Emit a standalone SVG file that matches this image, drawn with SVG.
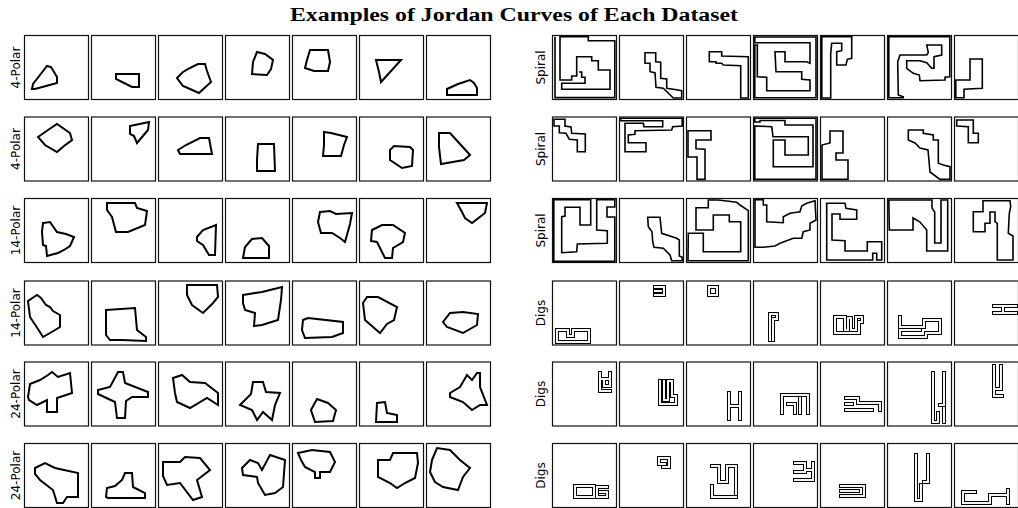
<svg xmlns="http://www.w3.org/2000/svg" width="1018" height="508" viewBox="0 0 1018 508">
<style>
.fr{fill:#fff;stroke:#111;stroke-width:1.2}
.c{fill:none;stroke:#000;stroke-width:2;stroke-linejoin:miter}
.s{fill:none;stroke:#000;stroke-width:1.6;stroke-linejoin:miter}
.do{fill:none;stroke:#000;stroke-width:4;stroke-linecap:square;stroke-linejoin:miter}
.di{fill:none;stroke:#f4f4f4;stroke-width:2;stroke-linecap:square;stroke-linejoin:miter}
.lab{font-family:"DejaVu Sans","Liberation Sans",sans-serif;font-size:12px;fill:#000;text-anchor:middle}
.title{font-family:"Liberation Serif",serif;font-weight:bold;font-size:18px;fill:#000;text-anchor:middle}
</style>
<rect width="1018" height="508" fill="#fff"/>
<text class="title" x="514" y="20.5" textLength="448" lengthAdjust="spacingAndGlyphs">Examples of Jordan Curves of Each Dataset</text>
<g id="labels">
<text class="lab" transform="translate(19.5,67.5) rotate(-90)">4-Polar</text>
<text class="lab" transform="translate(19.5,149) rotate(-90)">4-Polar</text>
<text class="lab" transform="translate(19.5,230.5) rotate(-90)">14-Polar</text>
<text class="lab" transform="translate(19.5,313) rotate(-90)">14-Polar</text>
<text class="lab" transform="translate(19.5,394) rotate(-90)">24-Polar</text>
<text class="lab" transform="translate(19.5,475.5) rotate(-90)">24-Polar</text>
<text class="lab" transform="translate(545,67.5) rotate(-90)">Spiral</text>
<text class="lab" transform="translate(545,149) rotate(-90)">Spiral</text>
<text class="lab" transform="translate(545,230.5) rotate(-90)">Spiral</text>
<text class="lab" transform="translate(545,313) rotate(-90)">Digs</text>
<text class="lab" transform="translate(545,394) rotate(-90)">Digs</text>
<text class="lab" transform="translate(545,475.5) rotate(-90)">Digs</text>
</g>
<!-- Left: 4-Polar row 1 -->
<g id="L1-1"><rect class="fr" x="24.5" y="35.5" width="64" height="64"/><polygon class="c" points="32,89 33,84 40,75 47,66 51,67 54,72 57,77 57,83 46,86 35,89"/></g>
<g id="L1-2"><rect class="fr" x="91.5" y="35.5" width="64" height="64"/><polygon class="c" points="116,74 139,74 139,87 132,87 124,83 116,79"/></g>
<g id="L1-3"><rect class="fr" x="158.5" y="35.5" width="64" height="64"/><polygon class="c" points="177,78 183,72 190,68 198,64 205,64 207,71 211,82 199,93 190,89 183,86"/></g>
<g id="L1-4"><rect class="fr" x="225.5" y="35.5" width="64" height="64"/><polygon class="c" points="252,74 253,62 257,52 265,54 273,60 271,69 267,75"/></g>
<g id="L1-5"><rect class="fr" x="292.5" y="35.5" width="64" height="64"/><polygon class="c" points="305,68 307,60 310,50 328,50 330,62 328,71 314,71"/></g>
<g id="L1-6"><rect class="fr" x="359.5" y="35.5" width="64" height="64"/><polygon class="c" points="376,60 401,60 391,71 381,82 379,72"/></g>
<g id="L1-7"><rect class="fr" x="426.5" y="35.5" width="64" height="64"/><polygon class="c" points="447,95 447,89 458,84 470,80 474,83 477,88 477,95"/></g>
<!-- row 2 -->
<g id="L2-1"><rect class="fr" x="24.5" y="117" width="64" height="64"/><polygon class="c" points="38,137 48,130 57,124 70,133 72,140 64,146 57,152 45,145"/></g>
<g id="L2-2"><rect class="fr" x="91.5" y="117" width="64" height="64"/><polygon class="c" points="130,126 149,122 148,130 137,143 134,136 130,134"/></g>
<g id="L2-3"><rect class="fr" x="158.5" y="117" width="64" height="64"/><polygon class="c" points="178,150 186,145 200,138 209,138 212,154 180,154"/></g>
<g id="L2-4"><rect class="fr" x="225.5" y="117" width="64" height="64"/><polygon class="c" points="258,144 274,144 275,171 257,171 257,160"/></g>
<g id="L2-5"><rect class="fr" x="292.5" y="117" width="64" height="64"/><polygon class="c" points="324,132 331,133 347,137 344,145 341,156 323,156 324,145"/></g>
<g id="L2-6"><rect class="fr" x="359.5" y="117" width="64" height="64"/><polygon class="c" points="390,150 394,146 410,147 413,150 412,166 402,168 390,160"/></g>
<g id="L2-7"><rect class="fr" x="426.5" y="117" width="64" height="64"/><polygon class="c" points="439,133 450,133 460,144 470,155 464,160 441,164 439,147"/></g>
<!-- row 3 -->
<g id="L3-1"><rect class="fr" x="24.5" y="198.5" width="64" height="64"/><polygon class="c" points="43,223 50,222 57,232 66,234 74,237 70,246 64,250 58,253 47,256 46,246 43,245 42,232"/></g>
<g id="L3-2"><rect class="fr" x="91.5" y="198.5" width="64" height="64"/><polygon class="c" points="107,203 135,203 137,208 147,211 145,225 128,232 116,232 112,217 107,210"/></g>
<g id="L3-3"><rect class="fr" x="158.5" y="198.5" width="64" height="64"/><polygon class="c" points="197,237 203,230 216,225 215,255 209,255 203,245 197,241"/></g>
<g id="L3-4"><rect class="fr" x="225.5" y="198.5" width="64" height="64"/><polygon class="c" points="243,258 245,247 252,239 262,238 269,246 269,258"/></g>
<g id="L3-5"><rect class="fr" x="292.5" y="198.5" width="64" height="64"/><polygon class="c" points="320,212 330,211 336,214 352,213 350,224 345,242 340,238 332,233 321,233 318,222"/></g>
<g id="L3-6"><rect class="fr" x="359.5" y="198.5" width="64" height="64"/><polygon class="c" points="372,230 382,225 393,225 405,233 403,242 393,248 392,258 385,258 377,242 371,241"/></g>
<g id="L3-7"><rect class="fr" x="426.5" y="198.5" width="64" height="64"/><polygon class="c" points="457,203 487,203 485,213 472,223 465,218 462,212"/></g>
<!-- row 4 -->
<g id="L4-1"><rect class="fr" x="24.5" y="281" width="64" height="64"/><polygon class="c" points="28,301 37,295 41,298 46,305 50,307 53,311 60,315 60,327 50,333 43,337 36,326 30,317"/></g>
<g id="L4-2"><rect class="fr" x="91.5" y="281" width="64" height="64"/><polygon class="c" points="106,310 135,308 137,330 146,337 146,341 122,340 110,340 106,335"/></g>
<g id="L4-3"><rect class="fr" x="158.5" y="281" width="64" height="64"/><polygon class="c" points="187,285 217,285 218,297 213,303 203,313 192,305 187,295"/></g>
<g id="L4-4"><rect class="fr" x="225.5" y="281" width="64" height="64"/><polygon class="c" points="243,295 255,293 262,292 270,290 282,287 281,300 278,320 262,325 254,326 255,313 245,310 243,303"/></g>
<g id="L4-5"><rect class="fr" x="292.5" y="281" width="64" height="64"/><polygon class="c" points="303,320 308,318 343,322 343,333 332,337 305,338 302,330"/></g>
<g id="L4-6"><rect class="fr" x="359.5" y="281" width="64" height="64"/><polygon class="c" points="363,303 367,297 378,297 397,307 394,320 387,324 380,333 365,320"/></g>
<g id="L4-7"><rect class="fr" x="426.5" y="281" width="64" height="64"/><polygon class="c" points="443,322 450,313 463,312 478,314 477,325 463,333 447,327"/></g>
<!-- row 5 -->
<g id="L5-1"><rect class="fr" x="24.5" y="362" width="64" height="64"/><polygon class="c" points="28,397 30,384 40,380 48,375 52,372 58,377 70,373 72,393 57,398 57,412 47,412 47,400 37,405 29,400"/></g>
<g id="L5-2"><rect class="fr" x="91.5" y="362" width="64" height="64"/><polygon class="c" points="98,390 110,387 118,372 123,372 125,383 148,392 148,397 132,397 126,401 125,418 117,418 115,402 98,394"/></g>
<g id="L5-3"><rect class="fr" x="158.5" y="362" width="64" height="64"/><polygon class="c" points="173,378 182,375 190,382 205,383 218,393 218,405 207,398 190,408 177,402 175,393"/></g>
<g id="L5-4"><rect class="fr" x="225.5" y="362" width="64" height="64"/><polygon class="c" points="240,405 247,398 251,394 253,382 263,382 266,392 280,393 275,405 272,420 263,412 257,420 252,410"/></g>
<g id="L5-5"><rect class="fr" x="292.5" y="362" width="64" height="64"/><polygon class="c" points="311,410 317,399 328,403 336,410 333,421 315,422"/></g>
<g id="L5-6"><rect class="fr" x="359.5" y="362" width="64" height="64"/><polygon class="c" points="376,422 377,403 385,402 387,413 397,415 397,422"/></g>
<g id="L5-7"><rect class="fr" x="426.5" y="362" width="64" height="64"/><polygon class="c" points="450,393 460,387 467,375 472,380 477,373 480,373 480,387 487,405 480,405 472,410 463,402 450,397"/></g>
<!-- row 6 -->
<g id="L6-1"><rect class="fr" x="24.5" y="443.5" width="64" height="64"/><polygon class="c" points="35,468 45,463 55,468 78,473 78,497 67,497 63,503 57,503 53,490 40,480 35,474"/></g>
<g id="L6-2"><rect class="fr" x="91.5" y="443.5" width="64" height="64"/><polygon class="c" points="106,497 107,488 115,486 122,480 125,473 132,473 133,487 145,493 145,498 108,498"/></g>
<g id="L6-3"><rect class="fr" x="158.5" y="443.5" width="64" height="64"/><polygon class="c" points="163,462 180,462 185,457 200,458 210,470 197,480 202,497 193,500 180,483 167,485 163,476"/></g>
<g id="L6-4"><rect class="fr" x="225.5" y="443.5" width="64" height="64"/><polygon class="c" points="242,468 250,460 258,463 262,470 270,455 285,460 283,487 275,493 265,495 258,483 257,477 243,475"/></g>
<g id="L6-5"><rect class="fr" x="292.5" y="443.5" width="64" height="64"/><polygon class="c" points="298,453 312,450 330,452 335,462 330,472 320,472 320,478 315,478 315,472 305,467 301,460"/></g>
<g id="L6-6"><rect class="fr" x="359.5" y="443.5" width="64" height="64"/><polygon class="c" points="378,460 390,460 393,453 417,453 418,463 415,478 405,483 397,488 390,483 378,477"/></g>
<g id="L6-7"><rect class="fr" x="426.5" y="443.5" width="64" height="64"/><polygon class="c" points="432,460 437,448 450,450 460,460 470,468 463,477 458,490 443,487 435,482 430,472"/></g>
<!-- Right: Spiral row 1 -->
<g id="R1-1"><rect class="fr" x="552.5" y="35.5" width="64" height="64"/><path class="s" d="M555,36.8 V97.6 H614.8 V40.7 H588.3 V36.8 H560 V80 H571.7 V76 H576.7 V56.7 H591.7 V60.7 H598.3 V70 H610 V89.3 H561.7 V83.3 H585 V77.3 H581.7 V72 H579"/></g>
<g id="R1-2"><rect class="fr" x="619.5" y="35.5" width="64" height="64"/><polygon class="s" points="645,52.7 655.7,52.7 655.7,61.7 660.7,62.3 660.7,78.3 666.7,79 666.7,88.3 673.3,89.3 681.7,90.7 681.7,98 673.3,98 663.3,88.3 656,87.3 655,72.7 650,71.7 650,63.3 645,63.3"/></g>
<g id="R1-3"><rect class="fr" x="686.5" y="35.5" width="64" height="64"/><polygon class="s" points="709.3,51.7 721.7,51.7 721.7,56 748.3,56.7 748.3,98 740.7,98 740.7,65.7 723.3,65 721.7,63.3 716,63.3 716,61.7 709.3,61.7"/></g>
<g id="R1-4"><rect class="fr" x="753.5" y="35.5" width="64" height="64"/><polygon class="s" points="754.8,42.7 754.8,37 816,37 816,97.8 754.8,97.8 754.8,45 757.3,45 757.3,76.7 766.7,77.3 766.7,90.7 810,90.7 810,80 801.7,79.3 801.7,71.7 776,71.7 775,51.7 785,51.7 785,61.7 806.7,61.7 810,63.3 810,42.7"/></g>
<g id="R1-5"><rect class="fr" x="820.5" y="35.5" width="64" height="64"/><polygon class="s" points="821.8,36.8 851.7,36.8 851.7,58.3 847.3,59.3 846,65 836.7,65 836.7,51.7 841.7,50.7 841.7,43.3 831.7,43.3 830.7,53.3 830.7,98 821.8,98"/></g>
<g id="R1-6"><rect class="fr" x="887.5" y="35.5" width="64" height="64"/><polygon class="s" points="888.8,36.8 949.8,36.8 949.8,76.7 945,77.3 945,80 920,80.7 919.3,75 913.3,73.3 906.7,68.3 906.7,60.7 920,60.7 926.7,62.7 931.7,68.3 934,68.3 934,56.7 941.7,55 941.7,45 926.7,45 928.3,52.7 926.7,55 900,55 897.7,61.7 898.3,95 903.3,96.7 903.3,97.8 888.8,97.8"/></g>
<g id="R1-7"><rect class="fr" x="954.5" y="35.5" width="64" height="64"/><polygon class="s" points="970,59 982.3,59 982.3,88.3 964,89.3 964,97.8 955.8,97.8 955.8,80 970,80"/></g>
<!-- Spiral row 2 -->
<g id="R2-1"><rect class="fr" x="552.5" y="117" width="64" height="64"/><polygon class="s" points="554,119.3 565,119.3 565,126 571,127 571.7,133.3 585.3,134 585.3,151.7 577.3,151.7 577.3,140 569.3,139.3 566,133.3 559.3,132.7 559.3,126 554,126"/></g>
<g id="R2-2"><rect class="fr" x="619.5" y="117" width="64" height="64"/><polygon class="s" points="620.8,118.3 682.2,118.3 682.2,126 672.7,126.7 671.7,130 635,130.7 635,134.3 628.3,135 628.3,142.7 646,142.7 646,151.7 625,151.7 625,123.3 643.3,123.3 644,126.7 662.7,126.7 662.7,120.7 620.8,120.7"/></g>
<g id="R2-3"><rect class="fr" x="686.5" y="117" width="64" height="64"/><polygon class="s" points="688,130.7 711,130.7 711,140 696,140 696,148.7 705,149.3 705,179.4 697,179.4 697,157 688,157"/></g>
<g id="R2-4"><rect class="fr" x="753.5" y="117" width="64" height="64"/><polygon class="s" points="754.8,122 754.8,118.3 816,118.3 816,179.4 754.8,179.4 754.8,126 771.7,126.7 773,136.7 808.3,136.7 808.3,155 785,155 785,140 773.3,140 773.3,166.7 813,166.7 813,125 785,125 785,120.5 760,120.5 760,122"/></g>
<g id="R2-5"><rect class="fr" x="820.5" y="117" width="64" height="64"/><polygon class="s" points="822,179.4 822,145 830,143 830,131 843,131 843,153 836,153 836,160 848,160 848,179.4"/></g>
<g id="R2-6"><rect class="fr" x="887.5" y="117" width="64" height="64"/><polygon class="s" points="908.3,130 923.3,130 923.3,133.3 933.3,135 933.3,140 938.3,140 938.3,163.3 943.3,165 950,166.7 950,179.4 940,179.4 930,172 928,150 920,148 915,143 908.3,140"/></g>
<g id="R2-7"><rect class="fr" x="954.5" y="117" width="64" height="64"/><polygon class="s" points="956.7,120 973.3,120 973.3,133.3 978.3,133.3 978.3,142.7 968.3,142.7 968.3,126.7 956.7,126"/></g>
<!-- Spiral row 3 -->
<g id="R3-1"><rect class="fr" x="552.5" y="198.5" width="64" height="64"/><polygon class="s" points="565,207.3 580,207.3 580,225 590.7,225 590.7,199.8 553.8,199.8 553.8,261.2 614.8,261.2 614.8,217 607,217 607,207 614.8,207 614.8,199.8 596.7,199.8 596.7,230 607.3,230.7 607.3,243.3 577.3,244 576.7,251.7 561.7,252.7 561.7,216.7 565,216"/></g>
<g id="R3-2"><rect class="fr" x="619.5" y="198.5" width="64" height="64"/><polygon class="s" points="647.7,217.3 660,217.3 661.7,233.3 676.7,238.3 679.3,240 679.3,256 682.2,257.3 682.2,260.7 671.7,260.7 670,255 663.3,248.3 654,247.3 652.7,241.7 652,231.7 648.3,226.7"/></g>
<g id="R3-3"><rect class="fr" x="686.5" y="198.5" width="64" height="64"/><polygon class="s" points="688.3,233.3 703.3,233.3 703.3,251.7 740.7,251.7 740.7,221.7 729.3,221.7 729.3,215 713.3,215 713.3,230 696,230 696,207.7 708.3,207.7 708.3,200 718.3,200 736.7,202.3 740,205 748.3,210.7 748.3,260.8 688,260.8"/></g>
<g id="R3-4"><rect class="fr" x="753.5" y="198.5" width="64" height="64"/><polygon class="s" points="763.3,205 766.7,205 766.7,221.7 783.3,222.7 783.3,216.7 790,213.3 800,211.7 801.7,206 806.7,203.3 815,200.7 816,220 810,223.3 810,230 803.3,231.7 801.7,238.3 793.3,238.3 780,243.3 775,246 763.3,247.3 755,247.3 755,199.8 763.3,199.8"/></g>
<g id="R3-5"><rect class="fr" x="820.5" y="198.5" width="64" height="64"/><polygon class="s" points="826.7,203.3 845,203.3 846,208.3 856.7,210 856.7,219.3 840,219.3 840,214 832,214 832,240 845,240.7 845,251 867.3,251 867.3,241.7 881.7,241.7 881.7,260 876.7,260 876.7,253.3 872.7,253.3 872.7,260 826.7,260"/></g>
<g id="R3-6"><rect class="fr" x="887.5" y="198.5" width="64" height="64"/><polygon class="s" points="888.8,200 932,200 932,208 934.7,212 934.7,243 941,243 941,200 947.7,200 947.7,251 926.7,251 926.7,230 920,222 913,218 913,230 889.3,230"/></g>
<g id="R3-7"><rect class="fr" x="954.5" y="198.5" width="64" height="64"/><polygon class="s" points="973.3,211.7 983,211.7 983,200.7 1010,200.7 1010.7,206.7 1009.3,213.3 1008.3,233.3 1013,236 1013,260 997.3,260 997.3,223.3 995,221.7 995,212 990,212 990,223.3 985,223.3 985,231.7 973.3,231.7"/></g>
<!-- Digs row 4 -->
<g id="R4-1"><rect class="fr" x="552.5" y="281" width="64" height="64"/><path class="do" d="M557,342 V330 H568 V336 H573 V330 H589 V342 Z"/><path class="di" d="M557,342 V330 H568 V336 H573 V330 H589 V342 Z"/></g>
<g id="R4-2"><rect class="fr" x="619.5" y="281" width="64" height="64"/><path class="do" d="M655,287 H664 V295 H655 M655,291 H661"/><path class="di" d="M655,287 H664 V295 H655 M655,291 H661"/></g>
<g id="R4-3"><rect class="fr" x="686.5" y="281" width="64" height="64"/><path class="do" d="M709,287 H717 V295 H709 Z"/><path class="di" d="M709,287 H717 V295 H709 Z"/></g>
<g id="R4-4"><rect class="fr" x="753.5" y="281" width="64" height="64"/><path class="do" d="M770,340 V314 H777 V319 H773 V340"/><path class="di" d="M770,340 V314 H777 V319 H773 V340"/></g>
<g id="R4-5"><rect class="fr" x="820.5" y="281" width="64" height="64"/><path class="do" d="M835,333 V317 H845 V330 H848 V318 H851 V330 H856 V317 H862 V322 H859 V333 Z"/><path class="di" d="M835,333 V317 H845 V330 H848 V318 H851 V330 H856 V317 H862 V322 H859 V333 Z"/></g>
<g id="R4-6"><rect class="fr" x="887.5" y="281" width="64" height="64"/><path class="do" d="M900,317 V327 H924 V320 H940 V333 H926 V337 H900 V330 H920"/><path class="di" d="M900,317 V327 H924 V320 H940 V333 H926 V337 H900 V330 H920"/></g>
<g id="R4-7"><rect class="fr" x="954.5" y="281" width="64" height="64"/><path class="do" d="M994,306 H1016 M994,313 H1016 M1003,306 V313"/><path class="di" d="M994,306 H1016 M994,313 H1016 M1003,306 V313"/></g>
<!-- Digs row 5 -->
<g id="R5-1"><rect class="fr" x="552.5" y="362" width="64" height="64"/><path class="do" d="M600,373 V391 H610 M600,379 H609 M604,379 V386 H610 M610,373 V385"/><path class="di" d="M600,373 V391 H610 M600,379 H609 M604,379 V386 H610 M610,373 V385"/></g>
<g id="R5-2"><rect class="fr" x="619.5" y="362" width="64" height="64"/><path class="do" d="M660,381 V404 H676 V396 H672 V381 H668 V400 H664 V381"/><path class="di" d="M660,381 V404 H676 V396 H672 V381 H668 V400 H664 V381"/></g>
<g id="R5-3"><rect class="fr" x="686.5" y="362" width="64" height="64"/><path class="do" d="M729,393 V419 M740,393 V419 M729,406 H740"/><path class="di" d="M729,393 V419 M740,393 V419 M729,406 H740"/></g>
<g id="R5-4"><rect class="fr" x="753.5" y="362" width="64" height="64"/><path class="do" d="M782,413 V395 H808 V413 M800,398 V413 M788,404 H795 V413"/><path class="di" d="M782,413 V395 H808 V413 M800,398 V413 M788,404 H795 V413"/></g>
<g id="R5-5"><rect class="fr" x="820.5" y="362" width="64" height="64"/><path class="do" d="M846,398 H858 V403 H880 V410 M846,410 H872 M846,404 H852"/><path class="di" d="M846,398 H858 V403 H880 V410 M846,410 H872 M846,404 H852"/></g>
<g id="R5-6"><rect class="fr" x="887.5" y="362" width="64" height="64"/><path class="do" d="M933,373 V422 H938 V413 M944,373 V405 H940 M944,408 V422"/><path class="di" d="M933,373 V422 H938 V413 M944,373 V405 H940 M944,408 V422"/></g>
<g id="R5-7"><rect class="fr" x="954.5" y="362" width="64" height="64"/><path class="do" d="M994,366 V396 H1002 M1001,366 V389 H996"/><path class="di" d="M994,366 V396 H1002 M1001,366 V389 H996"/></g>
<!-- Digs row 6 -->
<g id="R6-1"><rect class="fr" x="552.5" y="443.5" width="64" height="64"/><path class="do" d="M575,486 H594 V497 H575 Z M597,497 V487 H607 M600,492 H607 V497 H597"/><path class="di" d="M575,486 H594 V497 H575 Z M597,497 V487 H607 M600,492 H607 V497 H597"/></g>
<g id="R6-2"><rect class="fr" x="619.5" y="443.5" width="64" height="64"/><path class="do" d="M659,458 H669 V467 H663 M659,458 V464 H665"/><path class="di" d="M659,458 H669 V467 H663 M659,458 V464 H665"/></g>
<g id="R6-3"><rect class="fr" x="686.5" y="443.5" width="64" height="64"/><path class="do" d="M712,466 H719 V482 H727 V466 H736 V494 M712,486 V497 H736"/><path class="di" d="M712,466 H719 V482 H727 V466 H736 V494 M712,486 V497 H736"/></g>
<g id="R6-4"><rect class="fr" x="753.5" y="443.5" width="64" height="64"/><path class="do" d="M795,463 H805 V470 H813 V480 H795 M805,472 H795 M813,463 V468"/><path class="di" d="M795,463 H805 V470 H813 V480 H795 M805,472 H795 M813,463 V468"/></g>
<g id="R6-5"><rect class="fr" x="820.5" y="443.5" width="64" height="64"/><path class="do" d="M841,486 H864 M841,491 H858 M841,496 H864 V488"/><path class="di" d="M841,486 H864 M841,491 H858 M841,496 H864 V488"/></g>
<g id="R6-6"><rect class="fr" x="887.5" y="443.5" width="64" height="64"/><path class="do" d="M916,455 V500 H921 V485 M928,455 V482 H924"/><path class="di" d="M916,455 V500 H921 V485 M928,455 V482 H924"/></g>
<g id="R6-7"><rect class="fr" x="954.5" y="443.5" width="64" height="64"/><path class="do" d="M963,492 H975 M963,503 H990 V495 H1008 V490 M963,492 V503 M1008,503 V495"/><path class="di" d="M963,492 H975 M963,503 H990 V495 H1008 V490 M963,492 V503 M1008,503 V495"/></g>
<g id="connectors"></g>
</svg>
